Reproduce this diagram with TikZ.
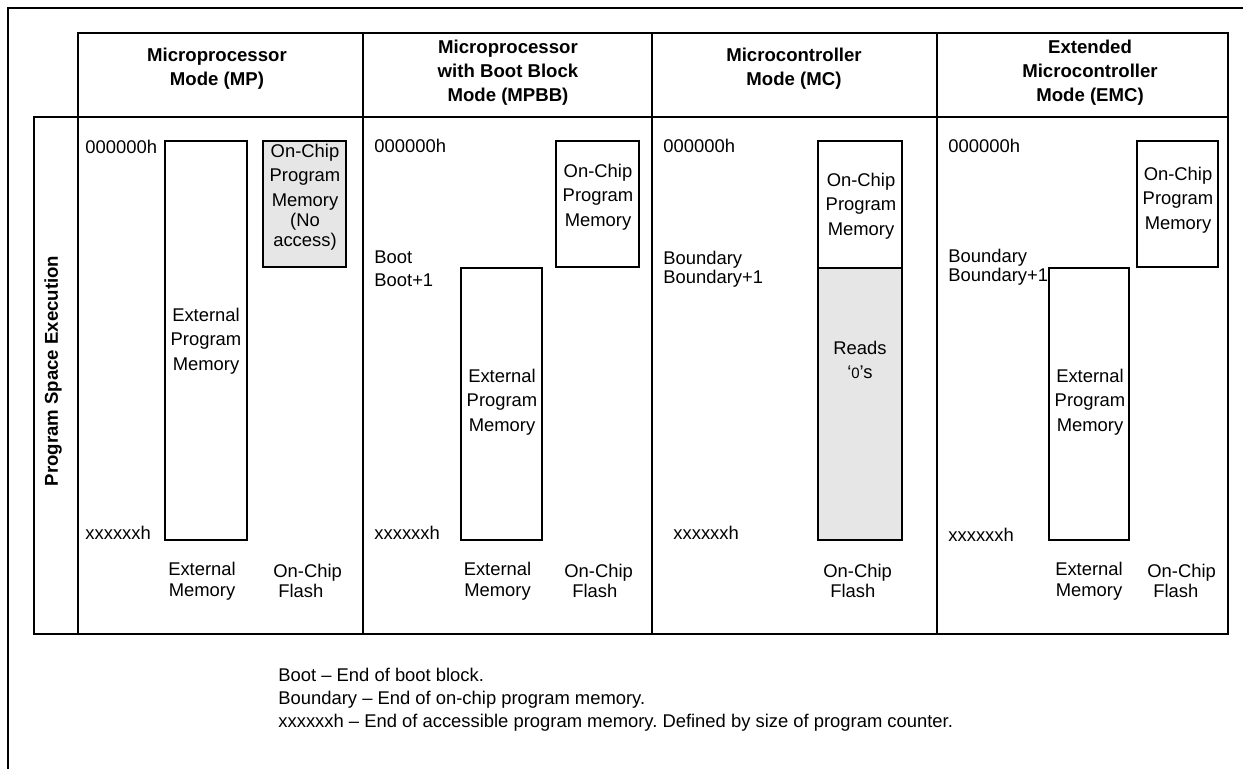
\documentclass[tikz,border=0pt]{standalone}
\usepackage{fontspec}
\setmainfont{Liberation Sans}
\usetikzlibrary{fit}
\definecolor{boxgray}{RGB}{230,230,230}
\begin{document}
\frenchspacing
\begin{tikzpicture}[x=0.5pt,y=-0.5pt,
  tline/.style={line width=1.1pt,line cap=rect},
  mem/.style={draw,line width=1.1pt,inner sep=0pt,outer sep=0pt},
  txt/.style={inner sep=0pt,font=\fontsize{9.2}{12.25}\selectfont,align=center},
  addr/.style={inner sep=0pt,font=\fontsize{9.2}{11.5}\selectfont,anchor=west,align=left},
  bnd/.style={addr,font=\fontsize{9.2}{9.5}\selectfont},
  hdr/.style={inner sep=0pt,font=\bfseries\fontsize{9.3}{12}\selectfont,align=center},
  note/.style={inner sep=0pt,font=\fontsize{9.2}{11.5}\selectfont,align=left,anchor=west},
  foot/.style={inner sep=0pt,font=\fontsize{9.2}{10.25}\selectfont,align=center},
  footl/.style={foot,align=left,anchor=west}
]
\useasboundingbox (0,0) rectangle (1243,768);
% outer frame
\draw[tline] (8,768) -- (8,8) -- (1243,8);
% table grid
\draw[tline] (78,33) -- (1228,33);
\draw[tline] (34,117) -- (1228,117);
\draw[tline] (34,634) -- (1228,634);
\draw[tline] (34,117) -- (34,634);
\foreach \x in {78,363,652,937,1228} \draw[tline] (\x,33) -- (\x,634);
% headers
\node[hdr] (hMP) at (217,69) {Microprocessor\\Mode (MP)};
\node[hdr] (hMPBB) at (508,72.5) {Microprocessor\\with Boot Block\\Mode (MPBB)};
\node[hdr] (hMC) at (794,69) {Microcontroller\\Mode (MC)};
\node[hdr] (hEMC) at (1090,72.5) {Extended\\Microcontroller\\Mode (EMC)};
\node[hdr,rotate=90] (rowlbl) at (53,371) {Program Space Execution};
% ---- MP
\node[addr] (mpTop) at (85,147) {000000h};
\node[addr] (mpEnd) at (85,533) {xxxxxxh};
\node[mem,fit={(165,141)(247,540)}] (mpExt) {};
\node[txt] (mpExtT) at (206,341) {External\\Program\\Memory};
\node[mem,fill=boxgray,fit={(263,141)(346,267)}] (mpOn) {};
\node[txt] (mpOnT) at (305,197) {On-Chip\\Program\\Memory\\[-2.2pt](No\\[-2.2pt]access)};
\node[foot] (mpExtL) at (202,581) {External\\Memory};
\node[footl] (mpOnL) at (273,581) {On-Chip\\\hspace{2.5pt}Flash};
% ---- MPBB
\node[addr] (mpbbTop) at (374,146) {000000h};
\node[addr] (mpbbBoot) at (374,268.5) {Boot\\Boot+1};
\node[addr] (mpbbEnd) at (374,533) {xxxxxxh};
\node[mem,fit={(556,141)(639,267)}] (mpbbOn) {};
\node[txt] (mpbbOnT) at (598,197) {On-Chip\\Program\\Memory};
\node[mem,fit={(461,268)(542,540)}] (mpbbExt) {};
\node[txt] (mpbbExtT) at (502,402) {External\\Program\\Memory};
\node[foot] (mpbbExtL) at (497.5,581) {External\\Memory};
\node[footl] (mpbbOnL) at (564,581) {On-Chip\\\hspace{4pt}Flash};
% ---- MC
\node[addr] (mcTop) at (663,146) {000000h};
\node[bnd] (mcBnd) at (663,269) {Boundary\\Boundary+1};
\node[addr] (mcEnd) at (673,533) {xxxxxxh};
\node[mem,fit={(818,141)(902,268)}] (mcOn) {};
\node[mem,fill=boxgray,fit={(818,268)(902,540)}] (mcZero) {};
\node[txt] (mcOnT) at (861,206) {On-Chip\\Program\\Memory};
\node[txt] (mcZeroT) at (860,360) {Reads\\‘{\fontsize{7.5}{9}\selectfont 0}’s};
\node[footl] (mcOnL) at (823,581) {On-Chip\\\hspace{3.5pt}Flash};
% ---- EMC
\node[addr] (emcTop) at (948,146) {000000h};
\node[bnd] (emcBnd) at (948,267.5) {Boundary\\Boundary+1};
\node[addr] (emcEnd) at (948,535) {xxxxxxh};
\node[mem,fit={(1137,141)(1218,267)}] (emcOn) {};
\node[txt] (emcOnT) at (1178,200) {On-Chip\\Program\\Memory};
\node[mem,fit={(1049,268)(1129,540)}] (emcExt) {};
\node[txt] (emcExtT) at (1090,402) {External\\Program\\Memory};
\node[foot] (emcExtL) at (1089,581) {External\\Memory};
\node[footl] (emcOnL) at (1147,581) {On-Chip\\\hspace{3pt}Flash};
% ---- notes
\node[note] (notes) at (278,700) {Boot – End of boot block.\\Boundary – End of on-chip program memory.\\xxxxxxh – End of accessible program memory. Defined by size of program counter.};
\end{tikzpicture}
\end{document}
